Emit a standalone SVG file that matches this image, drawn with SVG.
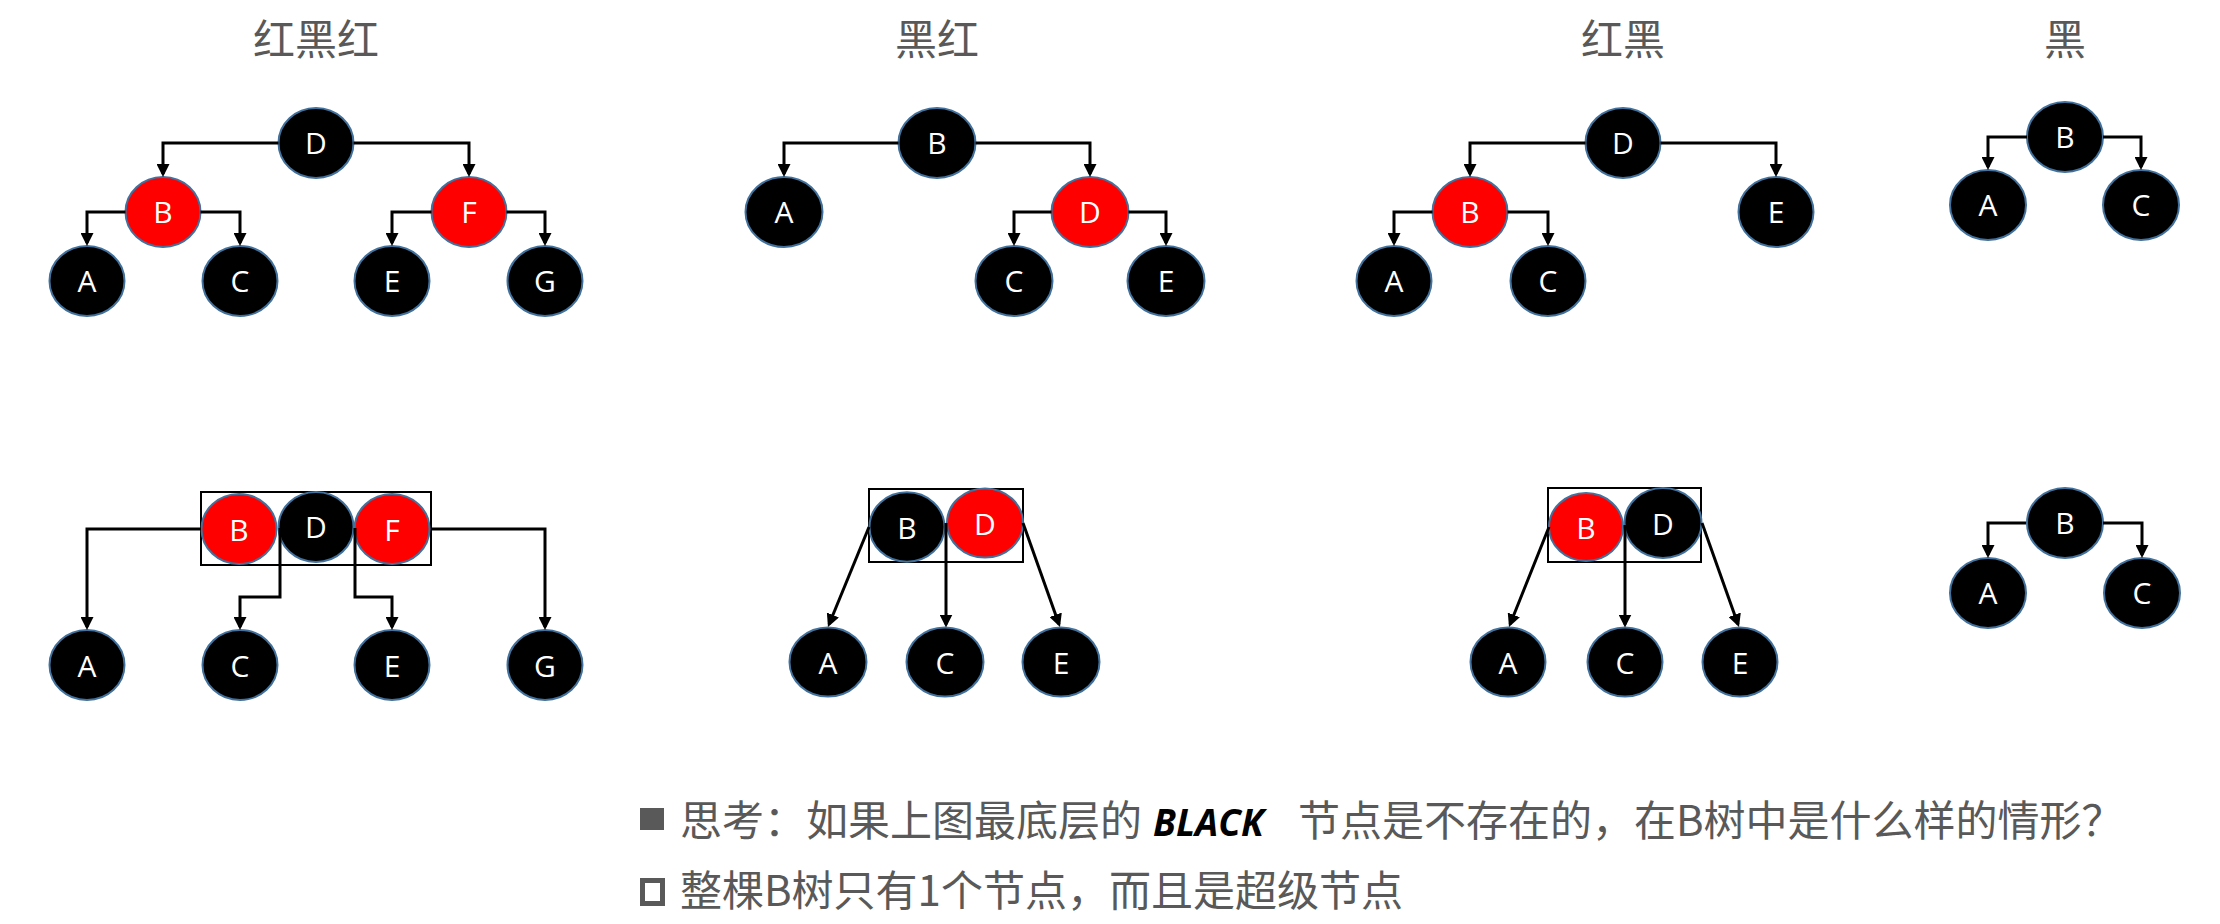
<svg xmlns="http://www.w3.org/2000/svg" width="2220" height="924" viewBox="0 0 2220 924">
<style>
.nd{stroke:#41719C;stroke-width:2}
.blk{fill:#000}
.red{fill:#FF0000}
.lbl{font-family:"Open Sans","Liberation Sans",sans-serif;font-size:30px;fill:#fff;text-anchor:middle}
.title{font-family:"Noto Sans CJK SC",sans-serif;font-size:42px;fill:#595959;text-anchor:middle}
.body{font-family:"Noto Sans CJK SC",sans-serif;font-size:42px;fill:#595959}
.bi{font-family:"Open Sans","Liberation Sans",sans-serif;font-size:37px;font-weight:bold;font-style:italic;fill:#000}
.box{fill:none;stroke:#000;stroke-width:2}
.c{fill:none;stroke:#000;stroke-width:3;marker-end:url(#arr)}
</style>
<defs>
<marker id="arr" markerUnits="userSpaceOnUse" markerWidth="13" markerHeight="13" refX="10" refY="6.5" orient="auto">
<path d="M0,0 L13,6.5 L0,13 z" fill="#000"/>
</marker>
</defs>
<rect width="2220" height="924" fill="#fff"/>

<g id="titles">
<text class="title" x="316" y="55">红黑红</text>
<text class="title" x="937" y="55">黑红</text>
<text class="title" x="1623" y="55">红黑</text>
<text class="title" x="2065" y="55">黑</text>
</g>

<!-- Tree 1: 红黑红 -->
<g id="t1-D"><ellipse class="nd blk" cx="316" cy="143" rx="37.5" ry="35"/><text class="lbl" x="316" y="154">D</text></g>
<g id="t1-B"><ellipse class="nd red" cx="163" cy="212" rx="37.5" ry="35"/><text class="lbl" x="163" y="223">B</text></g>
<g id="t1-F"><ellipse class="nd red" cx="469" cy="212" rx="37.5" ry="35"/><text class="lbl" x="469" y="223">F</text></g>
<g id="t1-A"><ellipse class="nd blk" cx="87" cy="281" rx="37.5" ry="35"/><text class="lbl" x="87" y="292">A</text></g>
<g id="t1-C"><ellipse class="nd blk" cx="240" cy="281" rx="37.5" ry="35"/><text class="lbl" x="240" y="292">C</text></g>
<g id="t1-E"><ellipse class="nd blk" cx="392" cy="281" rx="37.5" ry="35"/><text class="lbl" x="392" y="292">E</text></g>
<g id="t1-G"><ellipse class="nd blk" cx="545" cy="281" rx="37.5" ry="35"/><text class="lbl" x="545" y="292">G</text></g>

<!-- Tree 2: 黑红 -->
<g id="t2-B"><ellipse class="nd blk" cx="937" cy="143" rx="38.5" ry="35"/><text class="lbl" x="937" y="154">B</text></g>
<g id="t2-A"><ellipse class="nd blk" cx="784" cy="212" rx="38.5" ry="35"/><text class="lbl" x="784" y="223">A</text></g>
<g id="t2-D"><ellipse class="nd red" cx="1090" cy="212" rx="38.5" ry="35"/><text class="lbl" x="1090" y="223">D</text></g>
<g id="t2-C"><ellipse class="nd blk" cx="1014" cy="281" rx="38.5" ry="35"/><text class="lbl" x="1014" y="292">C</text></g>
<g id="t2-E"><ellipse class="nd blk" cx="1166" cy="281" rx="38.5" ry="35"/><text class="lbl" x="1166" y="292">E</text></g>

<!-- Tree 3: 红黑 -->
<g id="t3-D"><ellipse class="nd blk" cx="1623" cy="143" rx="37.5" ry="35"/><text class="lbl" x="1623" y="154">D</text></g>
<g id="t3-B"><ellipse class="nd red" cx="1470" cy="212" rx="37.5" ry="35"/><text class="lbl" x="1470" y="223">B</text></g>
<g id="t3-E"><ellipse class="nd blk" cx="1776" cy="212" rx="37.5" ry="35"/><text class="lbl" x="1776" y="223">E</text></g>
<g id="t3-A"><ellipse class="nd blk" cx="1394" cy="281" rx="37.5" ry="35"/><text class="lbl" x="1394" y="292">A</text></g>
<g id="t3-C"><ellipse class="nd blk" cx="1548" cy="281" rx="37.5" ry="35"/><text class="lbl" x="1548" y="292">C</text></g>

<!-- Tree 4: 黑 -->
<g id="t4-B"><ellipse class="nd blk" cx="2065" cy="137" rx="38" ry="35"/><text class="lbl" x="2065" y="148">B</text></g>
<g id="t4-A"><ellipse class="nd blk" cx="1988" cy="205" rx="38" ry="35"/><text class="lbl" x="1988" y="216">A</text></g>
<g id="t4-C"><ellipse class="nd blk" cx="2141" cy="205" rx="38" ry="35"/><text class="lbl" x="2141" y="216">C</text></g>

<!-- Tree 5: B-tree of 红黑红 -->
<g id="t5-BDF">
<rect class="box" x="201" y="492" width="230" height="73"/>
<ellipse class="nd red" cx="239" cy="529" rx="37.5" ry="35"/><text class="lbl" x="239" y="541">B</text>
<ellipse class="nd blk" cx="316" cy="527" rx="37.5" ry="35"/><text class="lbl" x="316" y="538">D</text>
<ellipse class="nd red" cx="392" cy="529" rx="37.5" ry="35"/><text class="lbl" x="392" y="541">F</text>
</g>
<g id="t5-A"><ellipse class="nd blk" cx="87" cy="665" rx="37.5" ry="35"/><text class="lbl" x="87" y="677">A</text></g>
<g id="t5-C"><ellipse class="nd blk" cx="240" cy="665" rx="37.5" ry="35"/><text class="lbl" x="240" y="677">C</text></g>
<g id="t5-E"><ellipse class="nd blk" cx="392" cy="665" rx="37.5" ry="35"/><text class="lbl" x="392" y="677">E</text></g>
<g id="t5-G"><ellipse class="nd blk" cx="545" cy="665" rx="37.5" ry="35"/><text class="lbl" x="545" y="677">G</text></g>

<!-- Tree 6: B-tree of 黑红 -->
<g id="t6-BD">
<rect class="box" x="869" y="489" width="154" height="73"/>
<ellipse class="nd blk" cx="907" cy="527" rx="37.5" ry="34.7"/><text class="lbl" x="907" y="539">B</text>
<ellipse class="nd red" cx="985" cy="523" rx="38" ry="34.5"/><text class="lbl" x="985" y="535">D</text>
</g>
<g id="t6-A"><ellipse class="nd blk" cx="828" cy="662" rx="38.5" ry="34.5"/><text class="lbl" x="828" y="674">A</text></g>
<g id="t6-C"><ellipse class="nd blk" cx="945" cy="662" rx="38.5" ry="34.5"/><text class="lbl" x="945" y="674">C</text></g>
<g id="t6-E"><ellipse class="nd blk" cx="1061" cy="662" rx="38.5" ry="34.5"/><text class="lbl" x="1061" y="674">E</text></g>

<!-- Tree 7: B-tree of 红黑 -->
<g id="t7-BD">
<rect class="box" x="1548" y="488" width="153" height="74"/>
<ellipse class="nd red" cx="1586" cy="527" rx="37" ry="34"/><text class="lbl" x="1586" y="539">B</text>
<ellipse class="nd blk" cx="1663" cy="523" rx="38.5" ry="35"/><text class="lbl" x="1663" y="535">D</text>
</g>
<g id="t7-A"><ellipse class="nd blk" cx="1508" cy="662" rx="37.5" ry="34.5"/><text class="lbl" x="1508" y="674">A</text></g>
<g id="t7-C"><ellipse class="nd blk" cx="1625" cy="662" rx="37.5" ry="34.5"/><text class="lbl" x="1625" y="674">C</text></g>
<g id="t7-E"><ellipse class="nd blk" cx="1740" cy="662" rx="37.5" ry="34.5"/><text class="lbl" x="1740" y="674">E</text></g>

<!-- Tree 8: B-tree of 黑 -->
<g id="t8-B"><ellipse class="nd blk" cx="2065" cy="523" rx="38" ry="35"/><text class="lbl" x="2065" y="534">B</text></g>
<g id="t8-A"><ellipse class="nd blk" cx="1988" cy="593" rx="38" ry="35"/><text class="lbl" x="1988" y="604">A</text></g>
<g id="t8-C"><ellipse class="nd blk" cx="2142" cy="593" rx="38" ry="35"/><text class="lbl" x="2142" y="604">C</text></g>

<g id="connectors">
<!-- tree 1 -->
<path class="c" d="M278.5,143 H163 V174"/>
<path class="c" d="M353.5,143 H469 V174"/>
<path class="c" d="M125.5,212 H87 V243"/>
<path class="c" d="M200.5,212 H240 V243"/>
<path class="c" d="M431.5,212 H392 V243"/>
<path class="c" d="M506.5,212 H545 V243"/>
<!-- tree 2 -->
<path class="c" d="M898.5,143 H784 V174"/>
<path class="c" d="M975.5,143 H1090 V174"/>
<path class="c" d="M1051.5,212 H1014 V243"/>
<path class="c" d="M1128.5,212 H1166 V243"/>
<!-- tree 3 -->
<path class="c" d="M1585.5,143 H1470 V174"/>
<path class="c" d="M1660.5,143 H1776 V174"/>
<path class="c" d="M1432.5,212 H1394 V243"/>
<path class="c" d="M1507.5,212 H1548 V243"/>
<!-- tree 4 -->
<path class="c" d="M2027,137 H1988 V167"/>
<path class="c" d="M2103,137 H2141 V167"/>
<!-- tree 5 -->
<path class="c" d="M201,529 H87 V627"/>
<path class="c" d="M280,528 V597 H240 V627"/>
<path class="c" d="M355,528 V597 H392 V627"/>
<path class="c" d="M431,529 H545 V627"/>
<!-- tree 6 -->
<path class="c" d="M869,527 L829.1,624.2"/>
<path class="c" d="M946,523 V624.5"/>
<path class="c" d="M1023,523 L1059,624.2"/>
<!-- tree 7 -->
<path class="c" d="M1549,527 L1510.1,624.2"/>
<path class="c" d="M1625,525 V624.5"/>
<path class="c" d="M1702,523 L1738,624.2"/>
<!-- tree 8 -->
<path class="c" d="M2026,523 H1988 V555"/>
<path class="c" d="M2103,523 H2142 V555"/>
</g>

<g id="notes">
<rect x="640" y="808" width="24" height="22" fill="#595959"/>
<text class="body" y="836"><tspan x="680">思考：如果上图最底层的 </tspan><tspan class="bi" x="1153">BLACK</tspan><tspan x="1298">节点是不存在的，在B树中是什么样的情形？</tspan></text>
<rect x="642.5" y="880.5" width="20" height="23" fill="none" stroke="#595959" stroke-width="5"/>
<text class="body" x="680" y="906">整棵B树只有1个节点，而且是超级节点</text>
</g>
</svg>
